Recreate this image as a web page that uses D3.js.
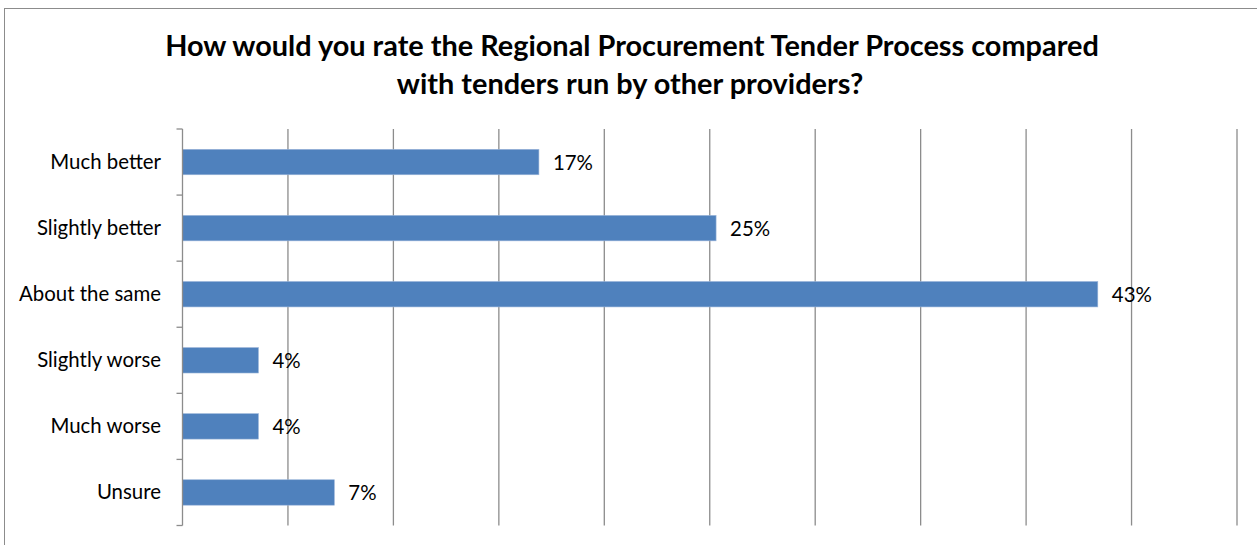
<!DOCTYPE html>
<html>
<head>
<meta charset="utf-8">
<script src="https://cdn.jsdelivr.net/npm/d3@7"></script>
<style>
  body { margin: 0; background: #fff; }
  svg { display: block; }
  text { font-family: Lato, "Open Sans", sans-serif; fill: #000; }
</style>
</head>
<body>
<div id="chart"></div>
<script>
// survey answers, top to bottom
var categories = ["Much better", "Slightly better", "About the same", "Slightly worse", "Much worse", "Unsure"];
var values = [16.9, 25.3, 43.4, 3.6, 3.6, 7.2];
var valueLabels = ["17%", "25%", "43%", "4%", "4%", "7%"];
var xTicks = [0, 5, 10, 15, 20, 25, 30, 35, 40, 45, 50];
var titleLines = ["How would you rate the Regional Procurement Tender Process compared",
                  "with tenders run by other providers?"];

var W = 1257, H = 545;
var margin = {top: 129, left: 182.5, right: 20, bottom: 19};
var width = 1237 - margin.left,
    height = 525.5 - margin.top;

var svg = d3.select("#chart").append("svg")
  .attr("width", W)
  .attr("height", H);

// chart border
svg.append("rect")
  .attr("x", 4.5).attr("y", 8.5)
  .attr("width", 1262).attr("height", 560)
  .attr("fill", "none")
  .attr("stroke", "#8c8c8c")
  .attr("stroke-width", 1);

// helper: shrink/grow font so text matches a target width
function fitText(sel, target) {
  var w = sel.node().getComputedTextLength();
  var fs = parseFloat(sel.style("font-size"));
  sel.style("font-size", (fs * target / w) + "px");
}

// title
var t1 = svg.append("text")
  .attr("x", 632).attr("y", 56)
  .attr("text-anchor", "middle")
  .style("font-weight", "bold")
  .style("font-size", "26px")
  .text(titleLines[0]);
fitText(t1, 934);
var t2 = svg.append("text")
  .attr("x", 630).attr("y", 94)
  .attr("text-anchor", "middle")
  .style("font-weight", "bold")
  .style("font-size", t1.style("font-size"))
  .text(titleLines[1]);

var g = svg.append("g")
  .attr("transform", "translate(" + margin.left + "," + margin.top + ")");

var xscale = d3.scaleLinear().domain([0, 50]).range([0, width]);
var yscale = d3.scaleBand().domain(categories).range([0, height]).paddingInner(0.615).paddingOuter(0.3075);

// vertical gridlines
g.selectAll(".grid")
  .data(xTicks.slice(1))
  .enter().append("line")
  .attr("class", "grid")
  .attr("x1", function(d){ return xscale(d); })
  .attr("x2", function(d){ return xscale(d); })
  .attr("y1", 0).attr("y2", height)
  .attr("stroke", "#8c8c8c")
  .attr("stroke-width", 1.3);

// bars
g.selectAll(".bar")
  .data(values)
  .enter().append("rect")
  .attr("class", "bar")
  .attr("x", 0)
  .attr("y", function(d, i){ return yscale(categories[i]); })
  .attr("width", function(d){ return xscale(d); })
  .attr("height", yscale.bandwidth())
  .attr("fill", "#4f81bd")
  .attr("stroke", "#9bb5d9")
  .attr("stroke-width", 0.6);

// y axis line + boundary ticks
var step = height / categories.length;
var bounds = d3.range(categories.length + 1).map(function(i){ return i * step; });
g.append("line")
  .attr("x1", 0).attr("x2", 0).attr("y1", 0).attr("y2", height)
  .attr("stroke", "#8c8c8c").attr("stroke-width", 1.3);
g.selectAll(".ytick")
  .data(bounds)
  .enter().append("line")
  .attr("class", "ytick")
  .attr("x1", -6).attr("x2", 0)
  .attr("y1", function(d){ return d; })
  .attr("y2", function(d){ return d; })
  .attr("stroke", "#8c8c8c").attr("stroke-width", 1.3);

// category labels
var cats = g.selectAll(".cat")
  .data(categories)
  .enter().append("text")
  .attr("class", "cat")
  .attr("x", -21.5)
  .attr("y", function(d){ return yscale(d) + yscale.bandwidth() / 2 + 7; })
  .attr("text-anchor", "end")
  .style("font-size", "18px")
  .text(function(d){ return d; });
var ref = cats.filter(function(d){ return d === "About the same"; });
fitText(ref, 142);
cats.style("font-size", ref.style("font-size"));

// value labels
g.selectAll(".val")
  .data(values)
  .enter().append("text")
  .attr("class", "val")
  .attr("x", function(d){ return xscale(d) + 14; })
  .attr("y", function(d, i){ return yscale(categories[i]) + yscale.bandwidth() / 2 + 8; })
  .style("font-size", ref.style("font-size"))
  .text(function(d, i){ return valueLabels[i]; });
</script>
</body>
</html>
